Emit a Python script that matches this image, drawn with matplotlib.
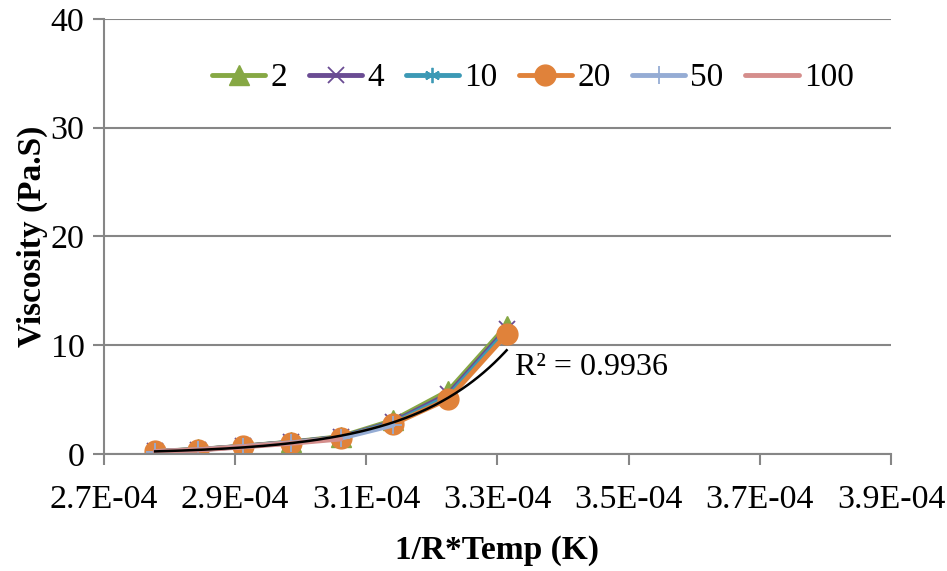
import numpy as np
import matplotlib
matplotlib.use("Agg")
import matplotlib.pyplot as plt
from matplotlib.ticker import FuncFormatter

plt.rcParams['font.family'] = ['Liberation Serif', 'DejaVu Serif']

# Data
x_vals = [2.778e-4, 2.844e-4, 2.912e-4, 2.985e-4, 3.061e-4, 3.141e-4, 3.225e-4, 3.314e-4]
s2 = [0.25, 0.42, 0.72, 1.10, 1.60, 3.10, 5.80, 11.8]
s4 = [0.24, 0.41, 0.71, 1.08, 1.55, 2.95, 5.50, 11.5]
s10 = [0.24, 0.40, 0.70, 1.07, 1.53, 2.85, 5.30, 11.3]
s20 = [0.24, 0.40, 0.70, 1.05, 1.50, 2.75, 5.05, 11.0]
s50 = [0.23, 0.39, 0.68, 1.03, 1.45, 2.65]
s100 = [0.22, 0.37, 0.65, 0.98, 1.38]
series_labels = ['2', '4', '10', '20', '50', '100']
# exponential trendline y = A*exp(B*x)
trend_A = 1.256e-9
trend_B = 68650.0
r2_text = 'R² = 0.9936'
x_ticks = [2.7e-4, 2.9e-4, 3.1e-4, 3.3e-4, 3.5e-4, 3.7e-4, 3.9e-4]
y_ticks = [0, 10, 20, 30, 40]

fig = plt.figure(figsize=(9.47, 5.71), dpi=100)
ax = fig.add_axes([0.1098, 0.2049, 0.831, 0.762])

styles = [
    dict(color='#86A844', marker='^', ms=14),
    dict(color='#6A4C93', marker='x', ms=11, mew=1.3),
    dict(color='#3C99B5', marker=(6, 2, 0), ms=11, mew=1.3),
    dict(color='#E0823A', marker='o', ms=15),
    dict(color='#95ACD4', marker='+', ms=13, mew=1.3),
    dict(color='#D58E8C', marker=None),
]
data = [s2, s4, s10, s20, s50, s100]
for lab, ys, st in zip(series_labels, data, styles):
    n = len(ys)
    ax.plot(x_vals[:n], ys, lw=3.5, label=lab, solid_capstyle='round', **st)

xt = np.linspace(x_vals[0], x_vals[-1], 200)
ax.plot(xt, trend_A * np.exp(trend_B * xt), color='black', lw=1.8, zorder=5)
ax.text(3.327e-4, 7.95, r2_text, fontsize=23, va='center', ha='left')

ax.set_xlim(2.7e-4, 3.9e-4)
ax.set_ylim(0, 40)
ax.set_xticks(x_ticks)
ax.set_yticks(y_ticks)
ax.xaxis.set_major_formatter(FuncFormatter(lambda v, p: f"{v:.1E}"))
ax.grid(axis='y', color='#868686', lw=1.5)
ax.set_axisbelow(True)
for s in ['top', 'right']:
    ax.spines[s].set_visible(False)
for s in ['left', 'bottom']:
    ax.spines[s].set_color('#868686')
    ax.spines[s].set_linewidth(1.5)
ax.tick_params(axis='both', colors='#868686', labelcolor='black', labelsize=24.5,
               length=8, width=1.5, direction='out')
ax.tick_params(axis='x', pad=14)
ax.tick_params(axis='y', pad=6)
ax.set_xlabel('1/R*Temp (K)', fontsize=24, fontweight='bold', labelpad=14)
ax.set_ylabel('Viscosity (Pa.S)', fontsize=24, fontweight='bold', labelpad=2)

ax.legend(loc='upper center', bbox_to_anchor=(0.545, 0.93), ncol=6, frameon=False,
          fontsize=24, handlelength=1.6, handletextpad=0.15, columnspacing=0.65,
          borderaxespad=0)

fig.savefig('out.png', dpi=100)
